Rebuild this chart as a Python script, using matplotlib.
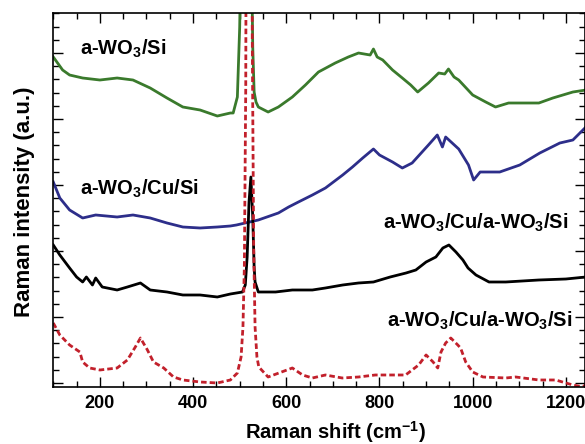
import matplotlib
matplotlib.use("Agg")
import matplotlib.pyplot as plt
from matplotlib.ticker import MultipleLocator, FixedLocator

plt.rcParams['font.family'] = ['Liberation Sans', 'DejaVu Sans']
plt.rcParams['font.weight'] = 'bold'
plt.rcParams['mathtext.fontset'] = 'custom'
plt.rcParams['mathtext.rm'] = 'Liberation Sans:bold'
plt.rcParams['mathtext.bf'] = 'Liberation Sans:bold'

# a-WO3/Si (green)
wn_g = [100, 120, 135, 163, 200, 237, 271, 308, 344, 378, 415, 452, 480, 486, 495,
        500, 503, 507, 514, 521, 525, 528, 531, 535, 540, 561, 583, 613, 641, 669,
        705, 733, 755, 780, 787, 795, 807, 828, 849, 867, 882, 905, 927, 940, 948,
        960, 970, 1000, 1028, 1049, 1077, 1110, 1142, 1172, 1215, 1243]
int_g = [330, 317, 312, 309, 307, 309, 307, 299, 289, 280, 277, 271, 274, 274, 290,
         360, 450, 700, 1200, 700, 450, 340, 295, 285, 280, 275, 280, 290, 302, 315,
         324, 330, 334, 332, 338, 330, 327, 317, 309, 302, 295, 304, 314, 313, 318,
         310, 307, 292, 285, 280, 284, 284, 284, 289, 295, 297]

# a-WO3/Cu/Si (blue)
wn_b = [100, 114, 135, 163, 191, 237, 271, 308, 344, 378, 415, 452, 480, 493, 540,
        583, 605, 626, 656, 684, 721, 742, 764, 787, 800, 828, 849, 870, 905, 924,
        935, 942, 970, 991, 1002, 1016, 1058, 1101, 1144, 1187, 1215, 1243]
int_b = [205, 189, 177, 169, 172, 170, 172, 169, 164, 160, 159, 160, 161, 162, 167,
         174, 180, 185, 192, 199, 212, 220, 229, 238, 232, 225, 219, 224, 242, 252,
         240, 250, 238, 222, 207, 215, 215, 222, 234, 244, 247, 260]

# a-WO3/Cu/a-WO3/Si (black)
wn_k = [100, 114, 135, 150, 163, 171, 184, 191, 205, 237, 259, 287, 308, 344, 378,
        415, 452, 480, 506, 512, 516, 520, 524, 528, 531, 533, 540, 577, 613, 656,
        684, 721, 755, 787, 823, 857, 878, 900, 921, 936, 949, 964, 979, 990, 1007,
        1035, 1071, 1142, 1200, 1243]
int_k = [142, 132, 119, 110, 105, 110, 102, 109, 100, 97, 100, 104, 97, 95, 92,
         92, 90, 93, 95, 102, 130, 185, 210, 170, 120, 105, 95, 95, 97, 97,
         99, 102, 104, 105, 110, 114, 117, 125, 130, 139, 142, 135, 127, 119, 112,
         105, 105, 107, 108, 110]

# a-WO3/Cu/a-WO3/Si (red dashed)
wn_r = [100, 114, 135, 157, 163, 178, 200, 237, 259, 276, 287, 302, 315, 337, 358,
        378, 415, 452, 480, 495, 503, 507, 510, 513, 516, 520, 524, 527, 530, 533,
        537, 541, 561, 613, 635, 656, 684, 720, 755, 791, 828, 856, 884, 900, 915,
        925, 932, 942, 953, 968, 974, 985, 1000, 1022, 1071, 1092, 1142, 1178, 1215,
        1237, 1245]
int_r = [64, 52, 42, 35, 25, 19, 17, 19, 27, 40, 49, 37, 25, 19, 10,
         7, 5, 4, 7, 14, 30, 60, 120, 300, 900, 2500, 900, 350, 140, 60,
         30, 20, 10, 19, 12, 9, 12, 9, 10, 12, 12, 12, 22, 32, 25,
         19, 35, 44, 49, 42, 39, 25, 15, 10, 9, 10, 7, 7, 2,
         0, 4]

fig = plt.figure(figsize=(5.85, 4.44), dpi=100)
ax = fig.add_axes([0.0911, 0.1284, 0.9089, 0.8423])

ax.plot(wn_g, int_g, color='#3a7a2c', lw=2.0)
ax.plot(wn_b, int_b, color='#2d2e8a', lw=2.0)
ax.plot(wn_k, int_k, color='black', lw=2.0)
ax.plot(wn_r, int_r, color='#c2202b', lw=2.0, dashes=(2, 1.1))

ax.set_xlim(100, 1241)
ax.set_ylim(0, 374)

ax.xaxis.set_major_locator(MultipleLocator(200))
ax.xaxis.set_minor_locator(MultipleLocator(50))
ax.yaxis.set_major_locator(FixedLocator([4 + 66 * k for k in range(6)]))
ax.yaxis.set_minor_locator(FixedLocator([4 + 13.2 * k for k in range(29)]))
ax.set_yticklabels([])
ax.tick_params(which='both', direction='in', top=True, right=True, width=1)
ax.tick_params(which='major', length=7, labelsize=13, pad=6)
ax.tick_params(which='minor', length=4)
for lab in ax.get_xticklabels():
    lab.set_fontweight('bold')
for s in ax.spines.values():
    s.set_linewidth(1.2)

lbl = dict(fontsize=14.5, fontweight='bold', va='baseline')
ax.text(157, 332, r'a-WO$_\mathregular{3}$/Si', **lbl)
ax.text(157, 192, r'a-WO$_\mathregular{3}$/Cu/Si', **lbl)
ax.text(1206, 158, r'a-WO$_\mathregular{3}$/Cu/a-WO$_\mathregular{3}$/Si', ha='right', **lbl)
ax.text(1214, 60, r'a-WO$_\mathregular{3}$/Cu/a-WO$_\mathregular{3}$/Si', ha='right', **lbl)

ax.set_xlabel(r'Raman shift (cm$^\mathregular{-1}$)', fontsize=14.5, fontweight='bold')
ax.set_ylabel('Raman intensity (a.u.)', fontsize=16, fontweight='bold')
ax.xaxis.set_label_coords(0.53, -0.086)
ax.yaxis.set_label_coords(-0.035, 0.495)

fig.savefig('out.png', dpi=100)
